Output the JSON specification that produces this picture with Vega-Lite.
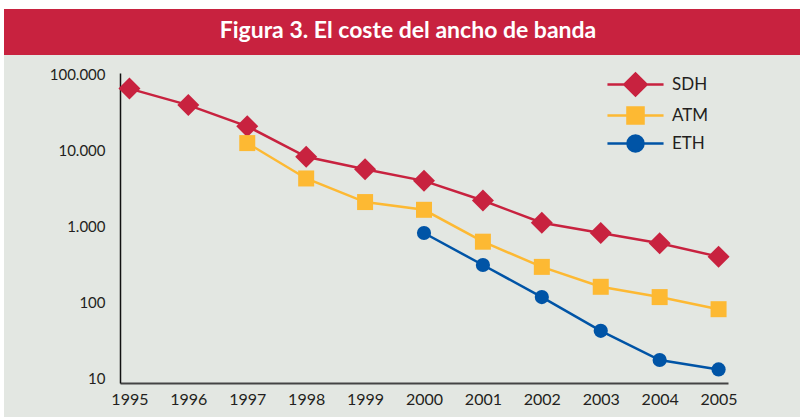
{
  "$schema": "https://vega.github.io/schema/vega-lite/v6.json",
  "background": "#E3E7E2",
  "padding": 0,
  "config": {
    "view": {"stroke": null},
    "font": "Lato",
    "locale": {"number": {"decimal": ",", "thousands": ".", "grouping": [3], "currency": ["", " €"]}}
  },
  "spacing": 0,
  "hconcat": [
    {
      "width": 4,
      "height": 417,
      "view": {"fill": "white", "stroke": null},
      "data": {"values": []},
      "mark": "point",
      "encoding": {}
    },
    {
      "spacing": 0,
      "vconcat": [
        {
          "width": 796,
          "height": 9,
          "view": {"fill": "white", "stroke": null},
          "data": {"values": []},
          "mark": "point",
          "encoding": {}
        },
        {
          "width": 796,
          "height": 46,
          "view": {"fill": "#C8223F", "stroke": null},
          "data": {"values": [{"titulo": "Figura 3. El coste del ancho de banda"}]},
          "mark": {"type": "text", "color": "white", "fontSize": 23, "fontWeight": "bold", "font": "Lato", "baseline": "middle", "align": "center", "dx": 6, "dy": -1},
          "encoding": {"text": {"field": "titulo"}}
        },
        {
          "width": 796,
          "height": 360,
          "data": {"values": [
            {"anio": "1995", "serie": "SDH", "coste": 66000},
            {"anio": "1996", "serie": "SDH", "coste": 40000},
            {"anio": "1997", "serie": "SDH", "coste": 21000},
            {"anio": "1998", "serie": "SDH", "coste": 8300},
            {"anio": "1999", "serie": "SDH", "coste": 5700},
            {"anio": "2000", "serie": "SDH", "coste": 4000},
            {"anio": "2001", "serie": "SDH", "coste": 2200},
            {"anio": "2002", "serie": "SDH", "coste": 1120},
            {"anio": "2003", "serie": "SDH", "coste": 820},
            {"anio": "2004", "serie": "SDH", "coste": 600},
            {"anio": "2005", "serie": "SDH", "coste": 400},
            {"anio": "1997", "serie": "ATM", "coste": 12600},
            {"anio": "1998", "serie": "ATM", "coste": 4300},
            {"anio": "1999", "serie": "ATM", "coste": 2100},
            {"anio": "2000", "serie": "ATM", "coste": 1660},
            {"anio": "2001", "serie": "ATM", "coste": 630},
            {"anio": "2002", "serie": "ATM", "coste": 293},
            {"anio": "2003", "serie": "ATM", "coste": 160},
            {"anio": "2004", "serie": "ATM", "coste": 117},
            {"anio": "2005", "serie": "ATM", "coste": 81},
            {"anio": "2000", "serie": "ETH", "coste": 820},
            {"anio": "2001", "serie": "ETH", "coste": 310},
            {"anio": "2002", "serie": "ETH", "coste": 117},
            {"anio": "2003", "serie": "ETH", "coste": 42},
            {"anio": "2004", "serie": "ETH", "coste": 17.3},
            {"anio": "2005", "serie": "ETH", "coste": 13}
          ]},
          "encoding": {
            "x": {
              "field": "anio", "type": "ordinal",
              "scale": {"type": "point", "padding": 0.16, "range": [116, 724]},
              "axis": {"title": null, "labelAngle": 0, "ticks": false, "offset": -32, "domainColor": "#444444", "domainWidth": 2, "labelPadding": 8, "labelFontSize": 16, "labelColor": "#231F20", "labelFont": "Lato", "grid": false}
            },
            "y": {
              "field": "coste", "type": "quantitative",
              "scale": {"type": "log", "domain": [8.6, 106000], "nice": false, "range": [328, 18]},
              "axis": {"title": null, "values": [10, 100, 1000, 10000, 100000], "format": ",d", "ticks": false, "grid": false, "offset": -116, "domainColor": "#111111", "domainWidth": 1.5, "labelPadding": 15, "labelFontSize": 15, "labelColor": "#231F20", "labelFont": "Lato"}
            },
            "color": {
              "field": "serie", "type": "nominal",
              "scale": {"domain": ["SDH", "ATM", "ETH"], "range": ["#C8223F", "#FDB933", "#0054A6"]},
              "legend": {
                "title": null, "orient": "none", "legendX": 623, "legendY": 72,
                "symbolSize": 484, "symbolStrokeWidth": 2.5, "rowPadding": 1,
                "labelOffset": 24, "labelFontSize": 17, "labelColor": "#231F20", "labelFont": "Lato",
                "encode": {
                  "symbols": {
                    "update": {
                      "shape": {"signal": "datum.value === 'SDH' ? 'M-2.55,0H-1L0,-1L1,0H2.55H1L0,1L-1,0Z' : datum.value === 'ATM' ? 'M-2.55,0H-0.73V-0.73H0.73V0H2.55H0.73V0.73H-0.73V0Z' : 'M-2.55,0H2.55M-0.73,0A0.73,0.73,0,1,0,0.73,0A0.73,0.73,0,1,0,-0.73,0Z'"},
                      "fill": {"signal": "datum.value === 'SDH' ? '#C8223F' : datum.value === 'ATM' ? '#FDB933' : '#0054A6'"},
                      "stroke": {"signal": "datum.value === 'SDH' ? '#C8223F' : datum.value === 'ATM' ? '#FDB933' : '#0054A6'"},
                      "strokeWidth": {"value": 2.5},
                      "opacity": {"value": 1},
                      "fillOpacity": {"value": 1}
                    }
                  }
                }
              }
            }
          },
          "layer": [
            {"mark": {"type": "line", "strokeWidth": 2.5}},
            {
              "transform": [{"filter": "datum.serie === 'SDH'"}],
              "mark": {"type": "point", "filled": true, "opacity": 1, "shape": "diamond", "size": 484}
            },
            {
              "transform": [{"filter": "datum.serie === 'ATM'"}],
              "mark": {"type": "point", "filled": true, "opacity": 1, "shape": "square", "size": 256}
            },
            {
              "transform": [{"filter": "datum.serie === 'ETH'"}],
              "mark": {"type": "point", "filled": true, "opacity": 1, "shape": "circle", "size": 201}
            }
          ]
        }
      ]
    }
  ]
}
